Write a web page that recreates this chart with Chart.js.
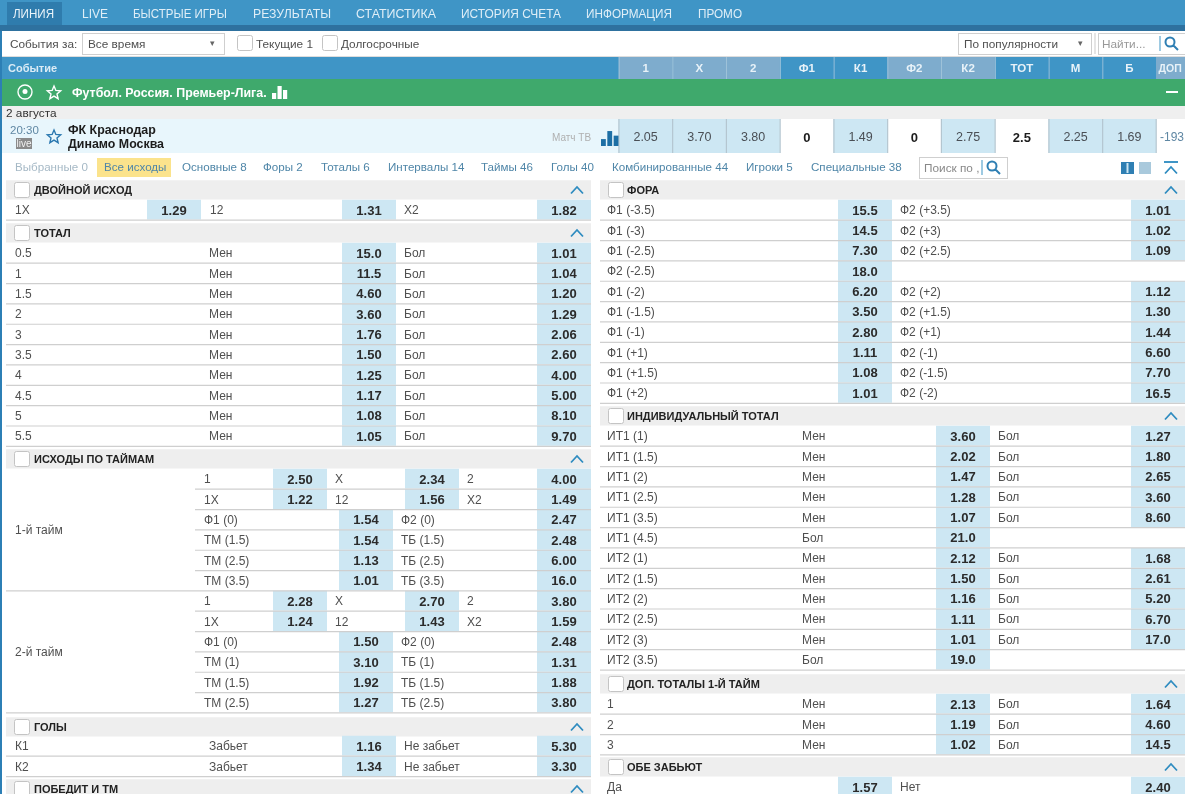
<!DOCTYPE html>
<html lang="ru">
<head>
<meta charset="utf-8">
<title>Линия</title>
<script src="https://cdn.jsdelivr.net/npm/chart.js@4"></script>
<style>
  html, body { margin: 0; padding: 0; background: #fff; overflow: hidden; }
  canvas { display: block; }
</style>
</head>
<body>
<canvas id="board" width="1185" height="794"></canvas>
<script>
// --- data ---
const navItems = ['ЛИНИЯ', 'LIVE', 'БЫСТРЫЕ ИГРЫ', 'РЕЗУЛЬТАТЫ', 'СТАТИСТИКА', 'ИСТОРИЯ СЧЕТА', 'ИНФОРМАЦИЯ', 'ПРОМО'];
const columnHeads = ['1', 'X', '2', 'Ф1', 'К1', 'Ф2', 'К2', 'ТОТ', 'М', 'Б'];
const matchOdds = ['2.05', '3.70', '3.80', '0', '1.49', '0', '2.75', '2.5', '2.25', '1.69'];
const tabNames = ['Выбранные 0', 'Все исходы', 'Основные 8', 'Форы 2', 'Тоталы 6', 'Интервалы 14', 'Таймы 46', 'Голы 40', 'Комбинированные 44', 'Игроки 5', 'Специальные 38'];

const doubleLabels = ['1X', '12', 'X2'];
const doubleOdds = [1.29, 1.31, 1.82];

const totalLines = ['0.5', '1', '1.5', '2', '3', '3.5', '4', '4.5', '5', '5.5'];
const totalUnder = [15.0, 11.5, 4.60, 3.60, 1.76, 1.50, 1.25, 1.17, 1.08, 1.05];
const totalOver = [1.01, 1.04, 1.20, 1.29, 2.06, 2.60, 4.00, 5.00, 8.10, 9.70];

const halfThreeLabels = [['1', 'X', '2'], ['1X', '12', 'X2']];
const half1Three = [[2.50, 2.34, 4.00], [1.22, 1.56, 1.49]];
const half1LeftLabels = ['Ф1 (0)', 'ТМ (1.5)', 'ТМ (2.5)', 'ТМ (3.5)'];
const half1RightLabels = ['Ф2 (0)', 'ТБ (1.5)', 'ТБ (2.5)', 'ТБ (3.5)'];
const half1Left = [1.54, 1.54, 1.13, 1.01];
const half1Right = [2.47, 2.48, 6.00, 16.0];
const half2Three = [[2.28, 2.70, 3.80], [1.24, 1.43, 1.59]];
const half2LeftLabels = ['Ф1 (0)', 'ТМ (1)', 'ТМ (1.5)', 'ТМ (2.5)'];
const half2RightLabels = ['Ф2 (0)', 'ТБ (1)', 'ТБ (1.5)', 'ТБ (2.5)'];
const half2Left = [1.50, 3.10, 1.92, 1.27];
const half2Right = [2.48, 1.31, 1.88, 3.80];

const goalTeams = ['К1', 'К2'];
const goalYes = [1.16, 1.34];
const goalNo = [5.30, 3.30];

const handicapLeftLabels = ['Ф1 (-3.5)', 'Ф1 (-3)', 'Ф1 (-2.5)', 'Ф2 (-2.5)', 'Ф1 (-2)', 'Ф1 (-1.5)', 'Ф1 (-1)', 'Ф1 (+1)', 'Ф1 (+1.5)', 'Ф1 (+2)'];
const handicapRightLabels = ['Ф2 (+3.5)', 'Ф2 (+3)', 'Ф2 (+2.5)', null, 'Ф2 (+2)', 'Ф2 (+1.5)', 'Ф2 (+1)', 'Ф2 (-1)', 'Ф2 (-1.5)', 'Ф2 (-2)'];
const handicapLeft = [15.5, 14.5, 7.30, 18.0, 6.20, 3.50, 2.80, 1.11, 1.08, 1.01];
const handicapRight = [1.01, 1.02, 1.09, null, 1.12, 1.30, 1.44, 6.60, 7.70, 16.5];

const teamTotalLines = ['ИТ1 (1)', 'ИТ1 (1.5)', 'ИТ1 (2)', 'ИТ1 (2.5)', 'ИТ1 (3.5)', 'ИТ1 (4.5)', 'ИТ2 (1)', 'ИТ2 (1.5)', 'ИТ2 (2)', 'ИТ2 (2.5)', 'ИТ2 (3)', 'ИТ2 (3.5)'];
const teamTotalMid = ['Мен', 'Мен', 'Мен', 'Мен', 'Мен', 'Бол', 'Мен', 'Мен', 'Мен', 'Мен', 'Мен', 'Бол'];
const teamTotalUnder = [3.60, 2.02, 1.47, 1.28, 1.07, 21.0, 2.12, 1.50, 1.16, 1.11, 1.01, 19.0];
const teamTotalOver = [1.27, 1.80, 2.65, 3.60, 8.60, null, 1.68, 2.61, 5.20, 6.70, 17.0, null];

const firstHalfLines = ['1', '2', '3'];
const firstHalfUnder = [2.13, 1.19, 1.02];
const firstHalfOver = [1.64, 4.60, 14.5];

const bothScoreOdds = [1.57, 2.40];

// --- layout ---
const FONT = '"Liberation Sans", Arial, sans-serif';
const ROW = 20.35;
const TEXT_DROP = 1;
const BLUE = '#3f95c6';
const HEAD_GRAY = '#7eaccd';
const CELL = '#cde7f3';
const LINE = '#cfcfcf';
const LEFT = { x0: 6, x1: 591, label: 15, mid: 209, a: 342, rightLabel: 404, b: 537, title: 34 };
const RIGHT = { x0: 600, x1: 1185, label: 607, mid: 802, a: 936, rightLabel: 998, b: 1131, title: 627 };
const HANDICAP = { ...RIGHT, a: 838, rightLabel: 900 };

const bars = {};
const texts = [];
const shapes = [];

function rect(order, x0, x1, top, bottom, color) {
    let key = order + '|' + (bottom - top).toFixed(2);
    if (!bars[key]) {
        bars[key] = { type: 'bar', order: order, barThickness: bottom - top, grouped: false, borderWidth: 0, inflateAmount: 0, data: [], backgroundColor: [] };
    }
    bars[key].data.push({ x: [x0, x1], y: (top + bottom) / 2 });
    bars[key].backgroundColor.push(color);
}

function text(str, x, y, font, color, align) {
    texts.push({ str: String(str), x: x, y: y, font: font || '12px ' + FONT, color: color || '#4f4f4f', align: align || 'left' });
}

function fmt(v) {
    return v >= 10 ? v.toFixed(1) : v.toFixed(2);
}

function cell(x, y, v) {
    rect(2, x, x + 54, y - 10.2, y + 9.6, CELL);
    text(fmt(v), x + 27, y, 'bold 13px ' + FONT, '#2b2b2b', 'center');
}

function sectionHead(t, y, title) {
    rect(5, t.x0, t.x1, y - 9.8, y + 9.6, '#eeeeee');
    shapes.push({ kind: 'check', x: t.x0 + 8, y: y });
    text(title, t.title, y, 'bold 11px ' + FONT, '#222');
    shapes.push({ kind: 'chevron', x: t.x1 - 14, y: y });
}

function rowLine(x0, x1, y) {
    rect(1, x0, x1, y + 9.6, y + 10.8, LINE);
}

function oddsRows(t, y0, lines, mids, under, rightLabels, over) {
    lines.forEach((line, i) => {
        let y = y0 + i * ROW;
        text(line, t.label, y);
        let mid = Array.isArray(mids) ? mids[i] : mids;
        if (mid) text(mid, t.mid, y);
        cell(t.a, y, under[i]);
        let rl = Array.isArray(rightLabels) ? rightLabels[i] : rightLabels;
        if (rl) text(rl, t.rightLabel, y);
        if (over[i] !== null) cell(t.b, y, over[i]);
        rowLine(t.x0, t.x1, y);
    });
}

function halfBlock(name, y0, three, leftLabels, leftOdds, rightLabels, rightOdds) {
    const threeCols = [273, 405, 537];
    const threeLabels = [204, 335, 467];
    three.forEach((row, r) => {
        let y = y0 + r * ROW;
        row.forEach((v, c) => {
            text(halfThreeLabels[r][c], threeLabels[c], y);
            cell(threeCols[c], y, v);
        });
        rowLine(195, LEFT.x1, y);
    });
    leftLabels.forEach((lab, i) => {
        let y = y0 + (i + 2) * ROW;
        text(lab, 204, y);
        cell(339, y, leftOdds[i]);
        text(rightLabels[i], 401, y);
        cell(537, y, rightOdds[i]);
        if (i < leftLabels.length - 1) rowLine(195, LEFT.x1, y);
        else rowLine(LEFT.x0, LEFT.x1, y);
    });
    text(name, LEFT.label, y0 + 2.5 * ROW);
}

function topChrome() {
    rect(9, 0, 1185, 0, 25, BLUE);
    rect(9, 0, 1185, 25, 31, '#2e719f');
    rect(8, 7, 62, 2, 25, '#2f7cad');
    const navX = [13, 82, 133, 253, 356, 461, 586, 698];
    const navW = [41, 26, 94, 78, 80, 100, 86, 44];
    navItems.forEach((n, i) => {
        texts.push({ str: n, x: navX[i], y: 13, font: '13px ' + FONT, color: i === 0 ? '#eaf4fa' : '#dfeef7', align: 'left', maxW: navW[i] });
    });

    // filter row
    text('События за:', 10, 44, '11.8px ' + FONT);
    shapes.push({ kind: 'box', x0: 82, x1: 224, y0: 33, y1: 54 });
    text('Все время', 88, 44, '11.8px ' + FONT);
    text('▾', 212, 43, '9px ' + FONT, '#666', 'center');
    shapes.push({ kind: 'check', x: 237, y: 43 });
    text('Текущие 1', 256, 44, '11.8px ' + FONT);
    shapes.push({ kind: 'check', x: 322, y: 43 });
    text('Долгосрочные', 341, 44, '11.8px ' + FONT);
    shapes.push({ kind: 'box', x0: 958, x1: 1091, y0: 33, y1: 54 });
    text('По популярности', 964, 44, '11.8px ' + FONT);
    text('▾', 1080, 43, '9px ' + FONT, '#666', 'center');
    rect(3, 1094.5, 1095.5, 33, 54, '#cccccc');
    shapes.push({ kind: 'box', x0: 1098, x1: 1185, y0: 33, y1: 54 });
    text('Найти...', 1102, 44, '11.8px ' + FONT, '#999');
    shapes.push({ kind: 'glass', x: 1171, y: 43 });

    // column header
    rect(9, 0, 1185, 57, 79, BLUE);
    rect(9, 0, 1185, 56, 57, '#dddddd');
    text('Событие', 8, 68, 'bold 11px ' + FONT, '#dcecf6');
    const grayHeads = [0, 1, 2, 5, 6];
    const colW = 53.75;
    columnHeads.forEach((h, i) => {
        let x = 618.7 + i * colW;
        if (grayHeads.includes(i)) rect(8, x, x + colW, 57, 79, HEAD_GRAY);
        rect(7, x, x + 0.8, 57, 79, '#a9c8dd');
        text(h, x + colW / 2, 68, 'bold 11.5px ' + FONT, '#e8f2f8', 'center');
    });
    rect(8, 1156, 1185, 57, 79, HEAD_GRAY);
    text('ДОП', 1158.5, 68, 'bold 10.5px ' + FONT, '#e8f2f8');

    // league row
    rect(9, 0, 1185, 79, 106, '#3fa96c');
    rect(9, 0, 1185, 106, 119, '#efefef');
    shapes.push({ kind: 'ball', x: 25, y: 92 });
    shapes.push({ kind: 'star', x: 54, y: 93, color: '#ffffff' });
    text('Футбол. Россия. Премьер-Лига.', 72, 93, 'bold 12.4px ' + FONT, '#ffffff');
    shapes.push({ kind: 'miniBars', x: 272, y: 99, color: '#ffffff', scale: 1 });
    rect(3, 1166, 1178, 91, 93, '#ffffff');
    text('2 августа', 6, 113, '11.8px ' + FONT, '#333');

    // match row
    rect(9, 2, 1185, 119, 153, '#e8f6fc');
    text('20:30', 10, 130, '11.5px ' + FONT, '#5f87a3');
    rect(3, 16, 32, 138, 149, '#8a8a8a');
    text('live', 24, 143, '10px ' + FONT, '#f2f2f2', 'center');
    shapes.push({ kind: 'star', x: 54, y: 137, color: '#2a78b0' });
    text('ФК Краснодар', 68, 130, 'bold 12.4px ' + FONT, '#1c1c1c');
    text('Динамо Москва', 68, 143.5, 'bold 12.4px ' + FONT, '#1c1c1c');
    text('Матч ТВ', 552, 137, '10px ' + FONT, '#b0b0b0');
    shapes.push({ kind: 'miniBars', x: 601, y: 146, color: '#1d6fa5', scale: 1.15 });
    const plainCols = [3, 5, 7];
    matchOdds.forEach((v, i) => {
        let x = 618.7 + i * 53.75;
        rect(4, x, x + 53.75, 119, 153, plainCols.includes(i) ? '#ffffff' : CELL);
        rect(3, x - 0.4, x + 0.8, 119, 153, '#b4c6d0');
        if (plainCols.includes(i)) text(v, x + 26.9, 137, 'bold 13px ' + FONT, '#1c1c1c', 'center');
        else text(v, x + 26.9, 137, '12.5px ' + FONT, '#4a4f55', 'center');
    });
    rect(4, 1156, 1185, 119, 153, '#ffffff');
    rect(3, 1155.6, 1156.8, 119, 153, '#b4c6d0');
    text('-193', 1160, 137, '12px ' + FONT, '#5f87a3');

    // tabs row
    const tabX = [15, 104, 182, 263, 321, 388, 481, 551, 612, 746, 811];
    rect(4, 97, 171, 158, 177, '#fbe38c');
    tabNames.forEach((n, i) => {
        text(n, tabX[i], 167, '11.6px ' + FONT, i === 0 ? '#a6b9c6' : '#4f86a8');
    });
    shapes.push({ kind: 'box', x0: 919, x1: 1007, y0: 157, y1: 178 });
    text('Поиск по ,', 924, 167.5, '11.8px ' + FONT, '#888');
    shapes.push({ kind: 'glass', x: 993, y: 167 });
    rect(3, 1121, 1134, 162, 174, '#2f7fb3');
    rect(2, 1126.5, 1128.5, 163, 173, '#cde7f3');
    rect(3, 1139, 1151, 162, 174, '#a9c9dc');
    rect(3, 1164, 1178, 161, 163, '#3f95c6');
    shapes.push({ kind: 'chevron', x: 1171, y: 170 });

    rect(0, 0, 2, 31, 794, '#2c7fb5');
}

topChrome();

// left column
sectionHead(LEFT, 190, 'ДВОЙНОЙ ИСХОД');
[147, 342, 537].forEach((x, i) => cell(x, 210, doubleOdds[i]));
[15, 210, 404].forEach((x, i) => text(doubleLabels[i], x, 210));
rowLine(LEFT.x0, LEFT.x1, 210);

sectionHead(LEFT, 233, 'ТОТАЛ');
oddsRows(LEFT, 253, totalLines, 'Мен', totalUnder, 'Бол', totalOver);

sectionHead(LEFT, 459, 'ИСХОДЫ ПО ТАЙМАМ');
halfBlock('1-й тайм', 479, half1Three, half1LeftLabels, half1Left, half1RightLabels, half1Right);
halfBlock('2-й тайм', 601, half2Three, half2LeftLabels, half2Left, half2RightLabels, half2Right);

sectionHead(LEFT, 727, 'ГОЛЫ');
oddsRows(LEFT, 746, goalTeams, 'Забьет', goalYes, 'Не забьет', goalNo);

sectionHead(LEFT, 789, 'ПОБЕДИТ И ТМ');

// right column
sectionHead(RIGHT, 190, 'ФОРА');
oddsRows(HANDICAP, 210, handicapLeftLabels, null, handicapLeft, handicapRightLabels, handicapRight);

sectionHead(RIGHT, 416, 'ИНДИВИДУАЛЬНЫЙ ТОТАЛ');
oddsRows(RIGHT, 436, teamTotalLines, teamTotalMid, teamTotalUnder, teamTotalOver.map(v => v === null ? null : 'Бол'), teamTotalOver);

sectionHead(RIGHT, 684, 'ДОП. ТОТАЛЫ 1-Й ТАЙМ');
oddsRows(RIGHT, 704, firstHalfLines, 'Мен', firstHalfUnder, 'Бол', firstHalfOver);

sectionHead(RIGHT, 767, 'ОБЕ ЗАБЬЮТ');
oddsRows(HANDICAP, 787, ['Да'], null, [bothScoreOdds[0]], 'Нет', [bothScoreOdds[1]]);

function drawStar(ctx, x, y, r, color) {
    ctx.beginPath();
    for (let i = 0; i < 10; i++) {
        let a = -Math.PI / 2 + i * Math.PI / 5;
        let rad = i % 2 ? r * 0.45 : r;
        ctx.lineTo(x + Math.cos(a) * rad, y + Math.sin(a) * rad);
    }
    ctx.closePath();
    ctx.strokeStyle = color;
    ctx.lineWidth = 1.4;
    ctx.stroke();
}

const overlay = {
    id: 'overlay',
    afterDatasetsDraw(chart) {
        const ctx = chart.ctx;
        const sx = chart.scales.x;
        const sy = chart.scales.y;
        ctx.save();
        shapes.forEach(s => {
            if (s.kind === 'box') {
                let x0 = sx.getPixelForValue(s.x0), y0 = sy.getPixelForValue(s.y0);
                ctx.fillStyle = '#ffffff';
                ctx.strokeStyle = '#cfcfcf';
                ctx.lineWidth = 1;
                ctx.fillRect(x0 + 0.5, y0 + 0.5, s.x1 - s.x0, s.y1 - s.y0);
                ctx.strokeRect(x0 + 0.5, y0 + 0.5, s.x1 - s.x0, s.y1 - s.y0);
                return;
            }
            let x = sx.getPixelForValue(s.x), y = sy.getPixelForValue(s.y);
            if (s.kind === 'check') {
                ctx.beginPath();
                ctx.roundRect(x + 0.5, y - 7.5, 15, 15, 2);
                ctx.fillStyle = '#ffffff';
                ctx.fill();
                ctx.strokeStyle = '#c4c4c4';
                ctx.lineWidth = 1;
                ctx.stroke();
            } else if (s.kind === 'chevron') {
                ctx.beginPath();
                ctx.moveTo(x - 6, y + 3.5);
                ctx.lineTo(x, y - 3);
                ctx.lineTo(x + 6, y + 3.5);
                ctx.strokeStyle = '#2f8cc0';
                ctx.lineWidth = 1.8;
                ctx.stroke();
            } else if (s.kind === 'glass') {
                ctx.fillStyle = '#3f95c6';
                ctx.fillRect(x - 11.5, y - 7, 1, 15);
                ctx.beginPath();
                ctx.arc(x - 1, y - 1, 4.5, 0, Math.PI * 2);
                ctx.moveTo(x + 2.5, y + 2.5);
                ctx.lineTo(x + 7, y + 7);
                ctx.strokeStyle = '#2f7fb3';
                ctx.lineWidth = 2;
                ctx.stroke();
            } else if (s.kind === 'ball') {
                ctx.beginPath();
                ctx.arc(x, y, 7, 0, Math.PI * 2);
                ctx.strokeStyle = '#ffffff';
                ctx.lineWidth = 1.4;
                ctx.stroke();
                ctx.beginPath();
                ctx.arc(x, y - 0.5, 2.5, 0, Math.PI * 2);
                ctx.fillStyle = '#ffffff';
                ctx.fill();
            } else if (s.kind === 'star') {
                drawStar(ctx, x, y, 7, s.color);
            } else if (s.kind === 'miniBars') {
                ctx.fillStyle = s.color;
                [[0, 6], [5.5, 13], [11, 9]].forEach(b => {
                    ctx.fillRect(x + b[0] * s.scale, y - b[1] * s.scale, 4.2 * s.scale, b[1] * s.scale);
                });
            }
        });
        ctx.textBaseline = 'middle';
        texts.forEach(t => {
            ctx.font = t.font;
            ctx.fillStyle = t.color;
            ctx.textAlign = t.align;
            let x = sx.getPixelForValue(t.x), y = sy.getPixelForValue(t.y) + TEXT_DROP;
            if (t.maxW) ctx.fillText(t.str, x, y, t.maxW);
            else ctx.fillText(t.str, x, y);
        });
        ctx.restore();
    }
};

new Chart(document.getElementById('board'), {
    type: 'bar',
    data: { datasets: Object.values(bars) },
    plugins: [overlay],
    options: {
        indexAxis: 'y',
        responsive: false,
        animation: false,
        devicePixelRatio: 1,
        layout: { padding: 0 },
        plugins: { legend: { display: false }, tooltip: { enabled: false } },
        scales: {
            x: { type: 'linear', min: 0, max: 1185, display: false },
            y: { type: 'linear', min: 0, max: 794, reverse: true, offset: false, display: false }
        }
    }
});
</script>
</body>
</html>
